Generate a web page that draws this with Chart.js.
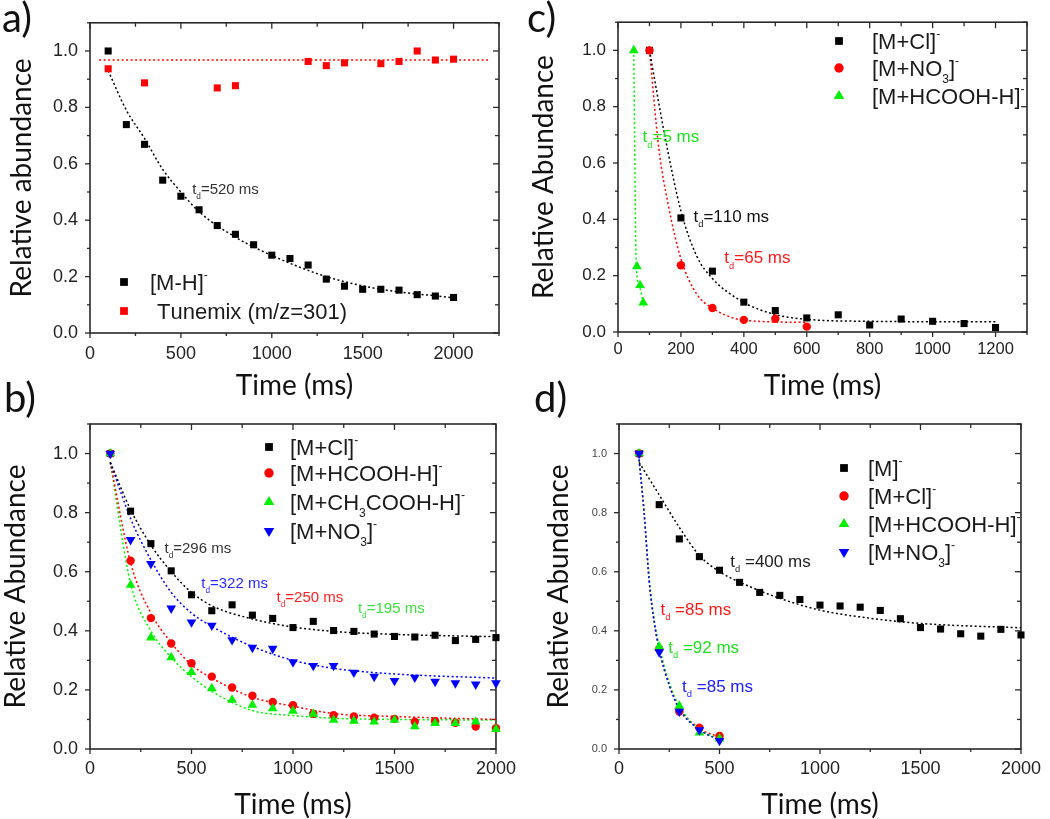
<!DOCTYPE html>
<html><head><meta charset="utf-8"><title>Relative abundance vs time</title>
<script src="https://cdn.jsdelivr.net/npm/chart.js"></script>
<style>
  body { margin: 0; background: #ffffff; }
  #wrap { position: relative; width: 1050px; height: 819px; overflow: hidden; }
  .panel { position: absolute; }
  .letter { position: absolute; font-family: Lato, 'Open Sans', sans-serif; font-size: 40px; line-height: 40px; color: #111; }
</style>
</head>
<body>
<div id="wrap">
  <canvas class="panel" id="chartA" width="525" height="400" style="left:0;top:0"></canvas>
  <canvas class="panel" id="chartB" width="525" height="419" style="left:0;top:400px"></canvas>
  <canvas class="panel" id="chartC" width="525" height="400" style="left:525px;top:0"></canvas>
  <canvas class="panel" id="chartD" width="525" height="419" style="left:525px;top:400px"></canvas>
  <div class="letter" style="left:2px;top:-3px">a)</div>
  <div class="letter" style="left:4px;top:377px">b)</div>
  <div class="letter" style="left:527px;top:-3px">c)</div>
  <div class="letter" style="left:534px;top:377px">d)</div>
</div>

<script>
// ---- panel a ----
const xA = [100,200,300,400,500,600,700,800,900,1000,1100,1200,1300,1400,1500,1600,1700,1800,1900,2000];
const mhA = [1.00,0.739,0.669,0.542,0.485,0.437,0.381,0.350,0.313,0.276,0.264,0.241,0.191,0.166,0.155,0.155,0.152,0.136,0.131,0.126];
const tuneXA = [100,300,700,800,1200,1300,1400,1600,1700,1800,1900,2000];
const tuneA = [0.937,0.887,0.869,0.877,0.963,0.948,0.958,0.955,0.963,1.00,0.968,0.971];
const fitMhXA = [100,200,300,400,500,600,800,1000,1300,1600,2000];
const fitMhA = [0.93,0.79,0.69,0.58,0.50,0.43,0.34,0.275,0.20,0.155,0.125];
const fitTuneXA = [50,2190];
const fitTuneA = [0.968,0.968];

// ---- panel b ----
const xB = [100,200,300,400,500,600,700,800,900,1000,1100,1200,1300,1400,1500,1600,1700,1800,1900,2000];
const clB = [1.0,0.805,0.695,0.603,0.522,0.468,0.488,0.453,0.442,0.411,0.432,0.401,0.398,0.389,0.381,0.379,0.385,0.367,0.371,0.377];
const hcoohB = [1.0,0.637,0.443,0.357,0.290,0.245,0.208,0.180,0.159,0.148,0.119,0.114,0.110,0.106,0.102,0.092,0.094,0.089,0.076,0.070];
const ch3B = [1.0,0.555,0.377,0.310,0.260,0.205,0.166,0.149,0.137,0.129,0.119,0.098,0.095,0.092,0.098,0.076,0.087,0.087,0.092,0.067];
const no3B = [1.0,0.708,0.627,0.476,0.429,0.418,0.369,0.343,0.340,0.294,0.282,0.282,0.259,0.245,0.231,0.242,0.228,0.223,0.219,0.223];
const fitXB = [100,200,300,400,500,600,800,1000,1200,1500,2000];
const fitClB = [0.97,0.81,0.69,0.60,0.53,0.485,0.44,0.413,0.398,0.388,0.38];
const fitHcoohB = [0.97,0.63,0.46,0.36,0.285,0.24,0.175,0.145,0.12,0.11,0.10];
const fitCh3B = [0.97,0.56,0.40,0.31,0.245,0.195,0.13,0.113,0.104,0.10,0.098];
const fitNo3B = [0.97,0.78,0.64,0.53,0.46,0.415,0.347,0.30,0.273,0.254,0.24];

// ---- panel c ----
const clXC = [100,200,300,400,500,600,700,800,900,1000,1100,1200];
const clC = [1.0,0.405,0.216,0.106,0.076,0.050,0.061,0.025,0.046,0.038,0.030,0.016];
const no3XC = [100,200,300,400,500,600];
const no3C = [1.0,0.237,0.085,0.043,0.047,0.019];
const hcoohXC = [50,60,70,80];
const hcoohC = [1.0,0.233,0.166,0.104];
const fitClXC = [100,150,200,250,300,400,500,600,800,1200];
const fitClC = [1.0,0.69,0.43,0.27,0.19,0.105,0.062,0.045,0.038,0.036];
const fitNo3XC = [100,130,160,200,250,300,400,600];
const fitNo3C = [1.0,0.65,0.45,0.26,0.135,0.085,0.042,0.034];
const fitHcoohXC = [50,58,70,82];
const fitHcoohC = [1.0,0.24,0.155,0.09];

// ---- panel d ----
const xD = [100,200,300,400,500,600,700,800,900,1000,1100,1200,1300,1400,1500,1600,1700,1800,1900,2000];
const mD = [1.0,0.827,0.711,0.651,0.605,0.564,0.530,0.520,0.506,0.487,0.484,0.480,0.469,0.441,0.411,0.406,0.390,0.382,0.405,0.386];
const shortXD = [100,200,300,400,500];
const clD = [1.0,0.338,0.127,0.072,0.044];
const hcoohD = [1.0,0.347,0.146,0.055,0.035];
const no3D = [1.0,0.328,0.127,0.064,0.028];
const fitMXD = [100,200,300,400,500,600,800,1000,1200,1500,2000];
const fitMD = [0.97,0.86,0.75,0.655,0.60,0.565,0.51,0.47,0.447,0.425,0.41];
const fitShortXD = [100,125,150,175,200,250,300,400,500];
const fitClD = [0.98,0.80,0.57,0.43,0.34,0.22,0.14,0.07,0.04];
const fitHcoohD = [0.98,0.80,0.58,0.44,0.35,0.225,0.145,0.066,0.035];
const fitNo3D = [0.98,0.80,0.57,0.43,0.335,0.215,0.135,0.065,0.03];

// ticks
const yTicks = [0, 0.2, 0.4, 0.6, 0.8, 1.0];
const xTicks2000 = [0, 500, 1000, 1500, 2000];
const xTicksC = [0, 200, 400, 600, 800, 1000, 1200];

const BLACK = '#000000', RED = '#ff0000', GREEN = '#00ee00', BLUE = '#0000ff';
const SANS = '"Liberation Sans", Arial, sans-serif';

function pts(xs, ys) { return xs.map((x, i) => ({x: x, y: ys[i]})); }

function markers(xs, ys, color, style) {
  const s = {pointStyle: 'rect', pointRadius: 5, rotation: 0};
  if (style === 'circle') { s.pointStyle = 'circle'; s.pointRadius = 4.2; }
  if (style === 'up') { s.pointStyle = 'triangle'; s.pointRadius = 5.6; }
  if (style === 'down') { s.pointStyle = 'triangle'; s.pointRadius = 5.6; s.rotation = 180; }
  return {data: pts(xs, ys), showLine: false, backgroundColor: color, borderColor: color,
    borderWidth: 0, pointStyle: s.pointStyle, pointRadius: s.pointRadius, rotation: s.rotation, clip: false};
}

function fit(xs, ys, color) {
  return {data: pts(xs, ys), showLine: true, borderColor: color, borderWidth: 1.5, borderDash: [2, 2.5],
    pointRadius: 0, cubicInterpolationMode: 'monotone', fill: false};
}

// draw text with _x subscripts and ^x superscripts
function drawRich(ctx, str, x, y, size, color) {
  ctx.fillStyle = color;
  ctx.textBaseline = 'alphabetic';
  ctx.textAlign = 'left';
  const base = y + size * 0.36;
  let cx = x;
  for (let i = 0; i < str.length; i++) {
    let ch = str[i], mode = 0;
    if ((ch === '_' || ch === '^') && i + 1 < str.length) { mode = ch === '_' ? 1 : 2; ch = str[++i]; }
    const fs = mode ? size * 0.55 : size;
    ctx.font = fs + 'px ' + SANS;
    const dy = mode === 1 ? size * 0.32 : (mode === 2 ? -size * 0.5 : 0);
    ctx.fillText(ch, cx, base + dy);
    cx += ctx.measureText(ch).width;
  }
}

function legendMarker(ctx, ds, x, y) {
  const r = ds.pointRadius + 0.5;
  ctx.fillStyle = ds.backgroundColor;
  ctx.beginPath();
  if (ds.pointStyle === 'rect') {
    const s = r * Math.SQRT1_2; ctx.rect(x - s, y - s, 2 * s, 2 * s);
  } else if (ds.pointStyle === 'circle') {
    ctx.arc(x, y, r, 0, Math.PI * 2);
  } else {
    const d = ds.rotation === 180 ? -1 : 1;
    ctx.moveTo(x, y - d * r);
    ctx.lineTo(x + r * 0.866, y + d * r * 0.5);
    ctx.lineTo(x - r * 0.866, y + d * r * 0.5);
    ctx.closePath();
  }
  ctx.fill();
}

const deco = {
  id: 'deco',
  beforeDatasetsDraw(chart, args, o) {
    const {ctx, chartArea: a, scales: {x, y}} = chart;
    ctx.save();
    ctx.strokeStyle = '#2a2a2a';
    ctx.lineWidth = 1.6;
    ctx.strokeRect(a.left, a.top, a.right - a.left, a.bottom - a.top);
    ctx.lineWidth = 1.3;
    const seg = (x1, y1, x2, y2) => { ctx.beginPath(); ctx.moveTo(x1, y1); ctx.lineTo(x2, y2); ctx.stroke(); };
    const nx = Math.round((x.max - x.min) / o.xMinor);
    for (let i = 0; i <= nx; i++) {
      const v = x.min + i * o.xMinor;
      const major = x.ticks.some(t => Math.abs(t.value - v) < 1e-6);
      const len = major ? 5 : 3;
      const p = x.getPixelForValue(v);
      seg(p, a.bottom, p, a.bottom + len);
      seg(p, a.top, p, a.top + len + 1);
    }
    const ny = Math.round((y.max - y.min) / o.yMinor);
    for (let i = 0; i <= ny; i++) {
      const v = y.min + i * o.yMinor;
      const major = y.ticks.some(t => Math.abs(t.value - v) < 1e-6);
      const len = major ? 5 : 3;
      const p = y.getPixelForValue(v);
      seg(a.left - len, p, a.left, p);
      seg(a.right - len - 1, p, a.right, p);
    }
    ctx.restore();
  },
  afterDatasetsDraw(chart, args, o) {
    const {ctx, scales: {x, y}} = chart;
    ctx.save();
    (o.notes || []).forEach(n => {
      drawRich(ctx, n.text, x.getPixelForValue(n.x), y.getPixelForValue(n.y), n.size, n.color);
    });
    (o.legend || []).forEach(l => {
      const ds = chart.data.datasets[l.ds];
      legendMarker(ctx, ds, l.mx, l.y);
      drawRich(ctx, l.text, l.tx, l.y, o.legendSize, '#1a1a1a');
    });
    ctx.restore();
  }
};

function makeChart(id, c) {
  return new Chart(document.getElementById(id), {
    type: 'scatter',
    data: {datasets: c.datasets},
    options: {
      responsive: false, animation: false, devicePixelRatio: 1,
      layout: {padding: c.pad},
      plugins: {legend: {display: false}, tooltip: {enabled: false}, deco: c.deco},
      scales: {
        x: {
          type: 'linear', min: 0, max: c.xMax,
          grid: {display: false, drawTicks: false}, border: {display: false},
          afterBuildTicks: s => { s.ticks = c.xTicks.map(v => ({value: v})); },
          afterFit: s => { s.height = c.xH; },
          ticks: {padding: c.xPad, color: '#222', autoSkip: false, maxRotation: 0,
            font: {family: SANS, size: c.xFont}, callback: v => String(v)},
          title: {display: true, text: 'Time (ms)', color: '#111',
            font: {family: 'Lato, sans-serif', size: 28, lineHeight: 1}, padding: {top: 0, bottom: 0}}
        },
        y: {
          type: 'linear', min: 0, max: 1.1,
          grid: {display: false, drawTicks: false}, border: {display: false},
          afterBuildTicks: s => { s.ticks = yTicks.map(v => ({value: v})); },
          afterFit: s => { s.width = c.yW; },
          ticks: {padding: 12, color: c.yColor || '#222', autoSkip: false,
            font: {family: SANS, size: c.yFont}, callback: v => v.toFixed(1)},
          title: {display: true, text: c.yTitle, color: '#111',
            font: {family: 'Lato, sans-serif', size: 28, lineHeight: 1}, padding: {top: c.yTitleOff, bottom: 0}}
        }
      }
    },
    plugins: [deco]
  });
}

makeChart('chartA', {
  datasets: [
    markers(xA, mhA, BLACK, 'rect'),
    markers(tuneXA, tuneA, RED, 'rect'),
    fit(fitMhXA, fitMhA, BLACK),
    fit(fitTuneXA, fitTuneA, RED)
  ],
  pad: {left: 0, top: 6, right: 26, bottom: 0},
  xMax: 2250, xTicks: xTicks2000, xH: 67, xPad: 10, xFont: 18, yW: 90, yFont: 18,
  yTitle: 'Relative abundance', yTitleOff: 8,
  deco: {
    xMinor: 250, yMinor: 0.1, legendSize: 22,
    legend: [
      {ds: 0, mx: 124, tx: 150, y: 282, text: '[M-H]^-'},
      {ds: 1, mx: 124, tx: 157, y: 311, text: 'Tunemix (m/z=301)'}
    ],
    notes: [{x: 562, y: 0.513, text: 't_d=520 ms', size: 15, color: '#333'}]
  }
});

makeChart('chartB', {
  datasets: [
    markers(xB, no3B, BLUE, 'down'),
    markers(xB, ch3B, GREEN, 'up'),
    markers(xB, hcoohB, RED, 'circle'),
    markers(xB, clB, BLACK, 'rect'),
    fit(fitXB, fitClB, BLACK),
    fit(fitXB, fitNo3B, BLUE),
    fit(fitXB, fitHcoohB, RED),
    fit(fitXB, fitCh3B, GREEN)
  ],
  pad: {left: 0, top: 24, right: 26, bottom: 0},
  xMax: 2000, xTicks: xTicks2000, xH: 70, xPad: 9, xFont: 18, yW: 90, yFont: 18,
  yTitle: 'Relative Abundance', yTitleOff: 1.5,
  deco: {
    xMinor: 250, yMinor: 0.1, legendSize: 22,
    legend: [
      {ds: 3, mx: 269, tx: 290, y: 47, text: '[M+Cl]^-'},
      {ds: 2, mx: 269, tx: 290, y: 73, text: '[M+HCOOH-H]^-'},
      {ds: 1, mx: 269, tx: 290, y: 102, text: '[M+CH_3COOH-H]^-'},
      {ds: 0, mx: 269, tx: 290, y: 131, text: '[M+NO_3]^-'}
    ],
    notes: [
      {x: 367, y: 0.681, text: 't_d=296 ms', size: 15, color: '#333'},
      {x: 548, y: 0.563, text: 't_d=322 ms', size: 15, color: '#2a2aff'},
      {x: 919, y: 0.515, text: 't_d=250 ms', size: 15, color: '#ff2020'},
      {x: 1320, y: 0.478, text: 't_d=195 ms', size: 15, color: '#3ddf3d'}
    ]
  }
});

makeChart('chartC', {
  datasets: [
    markers(hcoohXC, hcoohC, GREEN, 'up'),
    markers(no3XC, no3C, RED, 'circle'),
    markers(clXC, clC, BLACK, 'rect'),
    fit(fitClXC, fitClC, BLACK),
    fit(fitNo3XC, fitNo3C, RED),
    fit(fitHcoohXC, fitHcoohC, GREEN)
  ],
  pad: {left: 0, top: 6, right: 23, bottom: 0},
  xMax: 1300, xTicks: xTicksC, xH: 68, xPad: 7.5, xFont: 16.5, yW: 93, yFont: 17,
  yTitle: 'Relative Abundance', yTitleOff: 4.5,
  deco: {
    xMinor: 100, yMinor: 0.1, legendSize: 22,
    legend: [
      {ds: 2, mx: 314, tx: 347, y: 41, text: '[M+Cl]^-'},
      {ds: 1, mx: 314, tx: 347, y: 68, text: '[M+NO_3]^-'},
      {ds: 0, mx: 314, tx: 347, y: 96, text: '[M+HCOOH-H]^-'}
    ],
    notes: [
      {x: 78, y: 0.696, text: 't_d=5 ms', size: 17, color: '#22dd22'},
      {x: 240, y: 0.414, text: 't_d=110 ms', size: 17, color: '#111'},
      {x: 338, y: 0.265, text: 't_d=65 ms', size: 17, color: '#ff1a1a'}
    ]
  }
});

makeChart('chartD', {
  datasets: [
    markers(shortXD, no3D, BLUE, 'down'),
    markers(shortXD, hcoohD, GREEN, 'up'),
    markers(shortXD, clD, RED, 'circle'),
    markers(xD, mD, BLACK, 'rect'),
    fit(fitMXD, fitMD, BLACK),
    fit(fitShortXD, fitNo3D, BLUE),
    fit(fitShortXD, fitHcoohD, GREEN),
    fit(fitShortXD, fitClD, RED)
  ],
  pad: {left: 0, top: 24, right: 23, bottom: 0},
  xMax: 2000, xTicks: xTicks2000, xH: 70, xPad: 9, xFont: 18, yW: 94, yFont: 11, yColor: '#444',
  yTitle: 'Relative Abundance', yTitleOff: 19.5,
  deco: {
    xMinor: 250, yMinor: 0.1, legendSize: 22,
    legend: [
      {ds: 3, mx: 319, tx: 343, y: 68, text: '[M]^-'},
      {ds: 2, mx: 319, tx: 343, y: 96, text: '[M+Cl]^-'},
      {ds: 1, mx: 319, tx: 343, y: 124, text: '[M+HCOOH-H]^-'},
      {ds: 0, mx: 319, tx: 343, y: 152, text: '[M+NO_3]^-'}
    ],
    notes: [
      {x: 554, y: 0.637, text: 't_d =400 ms', size: 17, color: '#222'},
      {x: 206, y: 0.475, text: 't_d =85 ms', size: 17, color: '#ff1a1a'},
      {x: 245, y: 0.346, text: 't_d =92 ms', size: 17, color: '#22dd22'},
      {x: 314, y: 0.214, text: 't_d =85 ms', size: 17, color: '#2020ff'}
    ]
  }
});
</script>
</body></html>
